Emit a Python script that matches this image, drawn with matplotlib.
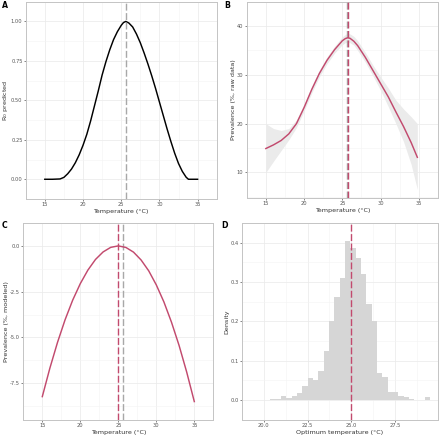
import numpy as np
import matplotlib
matplotlib.use("Agg")
import matplotlib.pyplot as plt

plt.rcParams['axes.unicode_minus'] = False
plt.rcParams['font.family'] = ['DejaVu Sans']

PINK = "#c24a6e"
GREY_DASH = "#a8a8a8"

# panel A: R0 thermal curve
temps_a = [15, 16, 17, 17.5, 18, 18.5, 19, 19.5, 20, 20.5, 21, 21.5, 22, 22.5, 23, 23.5,
           24, 24.5, 25, 25.3, 25.6, 26, 26.5, 27, 27.5, 28, 28.5, 29, 29.5, 30, 30.5,
           31, 31.5, 32, 32.5, 33, 33.5, 33.8, 35]
r0_a = [0, 0, 0.002, 0.012, 0.035, 0.065, 0.105, 0.155, 0.215, 0.285, 0.37, 0.465, 0.56, 0.66,
        0.745, 0.82, 0.885, 0.935, 0.975, 0.993, 1.0, 0.99, 0.965, 0.92, 0.865, 0.80, 0.73,
        0.655, 0.575, 0.49, 0.405, 0.32, 0.24, 0.165, 0.10, 0.05, 0.013, 0, 0]
topt_r0 = 25.6

# panel B: raw prevalence smooth + ribbon
temps_b = [15, 16, 17, 18, 19, 20, 21, 22, 23, 24, 25, 25.4, 25.7, 26, 26.5, 27, 28, 29,
           30, 31, 32, 33, 34, 34.8]
prev_b = [14.9, 15.65, 16.55, 17.9, 20.0, 23.3, 27.0, 30.3, 33.0, 35.2, 37.0, 37.45, 37.6,
          37.5, 36.9, 36.0, 33.6, 30.9, 28.2, 25.5, 22.4, 19.4, 16.1, 13.1]
upper_b = [20.0, 19.0, 18.6, 19.0, 20.8, 24.0, 27.7, 31.0, 33.7, 35.9, 37.8, 38.3, 38.5,
           38.4, 37.9, 37.0, 34.6, 32.0, 29.6, 27.3, 24.8, 23.0, 21.4, 20.0]
lower_b = [10.0, 12.3, 14.5, 16.7, 19.2, 22.6, 26.3, 29.6, 32.3, 34.5, 36.2, 36.6, 36.7,
           36.6, 36.1, 35.0, 32.6, 29.8, 26.8, 23.5, 20.0, 16.3, 11.6, 6.5]
topt_raw = 25.8

# panel C: modeled prevalence
temps_c = list(range(15, 36))
prev_c = [-8.23, -6.67, -5.27, -4.03, -2.96, -2.06, -1.32, -0.74, -0.33, -0.08, 0.0,
          -0.085, -0.34, -0.77, -1.36, -2.13, -3.06, -4.17, -5.44, -6.89, -8.5]
topt_model = 25.0

# panel D: histogram of optimum temperature (30 bins)
hist_start = 20.376
hist_width = 0.304
density_d = [0.002, 0.003, 0.009, 0.006, 0.011, 0.017, 0.035, 0.055, 0.052, 0.075, 0.125,
             0.202, 0.262, 0.31, 0.403, 0.387, 0.36, 0.32, 0.245, 0.202, 0.068, 0.058,
             0.02, 0.02, 0.01, 0.007, 0.003, 0.0, 0.0, 0.007]

W, H = 440, 437
fig = plt.figure(figsize=(W / 100, H / 100), dpi=100)


def make_ax(l, t, r, b):
    return fig.add_axes([l / W, 1 - b / H, (r - l) / W, (b - t) / H])


def style(ax, xmaj, ymaj, xlim, ylim, xlabel, ylabel, yfmt):
    ax.set_xlim(*xlim)
    ax.set_ylim(*ylim)
    ax.set_xticks(xmaj)
    ax.set_yticks(ymaj)
    xmin = [(a + b) / 2 for a, b in zip(xmaj[:-1], xmaj[1:])]
    dx = xmaj[1] - xmaj[0]
    xmin = [xmaj[0] - dx / 2] + xmin + [xmaj[-1] + dx / 2]
    ymin = [(a + b) / 2 for a, b in zip(ymaj[:-1], ymaj[1:])]
    dy = ymaj[1] - ymaj[0]
    ymin = [ymaj[0] - dy / 2] + ymin + [ymaj[-1] + dy / 2]
    ax.set_xticks(xmin, minor=True)
    ax.set_yticks(ymin, minor=True)
    ax.tick_params(which='minor', length=0)
    ax.tick_params(which='major', length=1.5, width=0.5, color='#555555',
                   labelsize=3.7, labelcolor='#555555', pad=0.8)
    ax.set_yticklabels([yfmt.format(v) for v in ymaj])
    ax.grid(which='major', color='#ebebeb', lw=0.55)
    ax.grid(which='minor', color='#f4f4f4', lw=0.4)
    ax.set_axisbelow(True)
    for s in ax.spines.values():
        s.set_color('#c4c4c4')
        s.set_linewidth(0.7)
    ax.set_xlabel(xlabel, fontsize=4.6, color='#333333', labelpad=1.2)
    ax.set_ylabel(ylabel, fontsize=4.6, color='#333333', labelpad=0.8)


def vdash(ax, x, color):
    ax.axvline(x, color=color, lw=1.0, dashes=(5, 1.8), zorder=3)


temp_label = "Temperature (°C)"

# A
axA = make_ax(25.7, 1.7, 216.7, 199)
axA.plot(temps_a, r0_a, color='black', lw=1.05)
vdash(axA, topt_r0, GREY_DASH)
style(axA, [15, 20, 25, 30, 35], [0, 0.25, 0.5, 0.75, 1.0], (14, 36), (-0.05, 1.05),
      temp_label, "R$_0$ predicted", "{:.2f}")

# B
axB = make_ax(246.7, 1.7, 438, 198.3)
axB.fill_between(temps_b, lower_b, upper_b, color='#ebebeb', lw=0, zorder=2)
axB.plot(temps_b, prev_b, color=PINK, lw=1.05, zorder=4)
vdash(axB, topt_r0, GREY_DASH)
vdash(axB, topt_raw, PINK)
style(axB, [15, 20, 25, 30, 35], [10, 20, 30, 40], (14.7, 36.07), (4.7, 40.2),
      temp_label, "Prevalence (%, raw data)", "{:.0f}")

# C
axC = make_ax(23.3, 223, 213.3, 419.7)
axC.plot(temps_c, prev_c, color=PINK, lw=1.05, zorder=4)
vdash(axC, topt_model, PINK)
vdash(axC, topt_r0, GREY_DASH)
style(axC, [15, 20, 25, 30, 35], [-7.5, -5.0, -2.5, 0.0], (13.92, 35.7), (-9.49, 0.63),
      temp_label, "Prevalence (%, modeled)", "{:.1f}")

# D
axD = make_ax(241.7, 223, 438.3, 419.7)
edges = hist_start + hist_width * np.arange(len(density_d) + 1)
axD.stairs(density_d, edges, fill=True, color='#d6d6d6', zorder=2)
vdash(axD, topt_model, PINK)
style(axD, [20.0, 22.5, 25.0, 27.5], [0.0, 0.1, 0.2, 0.3, 0.4], (19.92, 29.95), (-0.021, 0.422),
      "Optimum temperature (°C)", "Density", "{:.1f}")
axD.set_xticklabels(["20.0", "22.5", "25.0", "27.5"])

for lab, x, y in [("A", 1.5, 0.5), ("B", 224, 0.5), ("C", 2, 221.5), ("D", 221, 221.5)]:
    fig.text(x / W, 1 - y / H, lab, fontsize=5.6, fontweight='bold', va='top', ha='left')

fig.savefig("out.png", dpi=100)
